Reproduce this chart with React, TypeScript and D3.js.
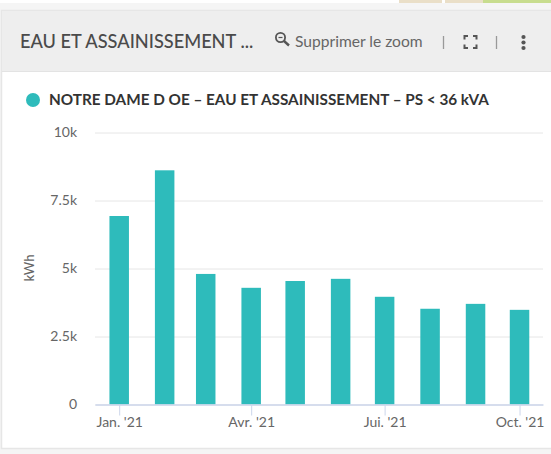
import React, { useEffect, useRef } from "react"
import * as d3 from "d3"

const months = ["2021-01-01", "2021-02-01", "2021-03-01", "2021-04-01", "2021-05-01", "2021-06-01", "2021-07-01", "2021-08-01", "2021-09-01", "2021-10-01"]
const values = [6930, 8610, 4800, 4290, 4540, 4620, 3960, 3520, 3700, 3480]
const yTicks = [0, 2500, 5000, 7500, 10000]
const yTickLabels = ["0", "2.5k", "5k", "7.5k", "10k"]
const xTickMonths = ["2021-01-01", "2021-04-01", "2021-07-01", "2021-10-01"]
const xTickLabels = ["Jan. '21", "Avr. '21", "Jui. '21", "Oct. '21"]

const title = "EAU ET ASSAINISSEMENT ..."
const legendLabel = "NOTRE DAME D OE \u2013 EAU ET ASSAINISSEMENT \u2013 PS < 36 kVA"
const zoomLabel = "Supprimer le zoom"
const yAxisLabel = "kWh"

const width = 551
const height = 454
const font = "Lato, sans-serif"
const barColor = "#2ebbbb"
const day = (s: string) => new Date(s + "T00:00:00Z")

const App = () => {
  const ref = useRef<SVGSVGElement>(null)

  useEffect(() => {
    const svg = d3.select(ref.current)
    svg.selectAll("*").remove()

    // page behind the card
    svg.append("rect").attr("width", width).attr("height", height).attr("fill", "#f5f5f5")
    svg.append("rect").attr("width", 383).attr("height", 3).attr("fill", "#ffffff")
    // bit of map showing above the card
    svg.append("rect").attr("x", 383).attr("width", 168).attr("height", 3).attr("fill", "#ffffff")
    svg.append("rect").attr("x", 399).attr("width", 43).attr("height", 3).attr("fill", "#eadfc8")
    svg.append("rect").attr("x", 445).attr("width", 38).attr("height", 3).attr("fill", "#eadfc8")
    svg.append("rect").attr("x", 483).attr("width", 68).attr("height", 3).attr("fill", "#c8dd8f")

    // card + header
    svg.append("rect").attr("x", 1.5).attr("y", 10.5).attr("width", 560).attr("height", 438)
      .attr("fill", "#ffffff").attr("stroke", "#e6e6e6").attr("stroke-width", 1.5)
    svg.append("rect").attr("x", 2).attr("y", 11).attr("width", 549).attr("height", 60).attr("fill", "#eeeeee")
    svg.append("line").attr("x1", 2).attr("x2", 551).attr("y1", 71.5).attr("y2", 71.5).attr("stroke", "#e3e3e3")

    svg.append("text").attr("x", 20).attr("y", 48).attr("font-family", font).attr("font-size", 18.2)
      .attr("font-weight", 500).attr("fill", "#4a4a4a").text(title)

    // zoom icon
    const icon = svg.append("g").attr("fill", "none").attr("stroke", "#555555")
    icon.append("circle").attr("cx", 280.5).attr("cy", 37.5).attr("r", 4.6).attr("stroke-width", 1.8)
    icon.append("line").attr("x1", 284).attr("y1", 41).attr("x2", 289).attr("y2", 45.5).attr("stroke-width", 2.4)
    icon.append("line").attr("x1", 278.5).attr("y1", 37.5).attr("x2", 282.5).attr("y2", 37.5).attr("stroke-width", 1.2)

    svg.append("text").attr("x", 295).attr("y", 47).attr("font-family", font).attr("font-size", 15.6)
      .attr("fill", "#666666").text(zoomLabel)

    svg.selectAll(".sep").data([443.5, 496.5]).join("line").attr("class", "sep")
      .attr("x1", d => d).attr("x2", d => d).attr("y1", 36).attr("y2", 49).attr("stroke", "#999999").attr("stroke-width", 1.3)

    // fullscreen icon
    const fs = svg.append("g").attr("fill", "none").attr("stroke", "#555555").attr("stroke-width", 2)
    ;["M464.5 39.5v-3.5h3.5", "M473 36h3.5v3.5", "M476.5 44.5v3.5h-3.5", "M468 48h-3.5v-3.5"].forEach(p => fs.append("path").attr("d", p))

    // dots menu
    svg.selectAll(".dot").data([37, 42.5, 48]).join("circle").attr("class", "dot")
      .attr("cx", 523.5).attr("cy", d => d).attr("r", 2.1).attr("fill", "#555555")

    // legend
    svg.append("circle").attr("cx", 33).attr("cy", 100).attr("r", 7).attr("fill", barColor)
    svg.append("text").attr("x", 49).attr("y", 105).attr("font-family", font).attr("font-size", 15.3)
      .attr("font-weight", 700).attr("fill", "#333333").text(legendLabel)

    // scales
    const xScale = d3.scaleTime()
      .domain([new Date("2020-12-15T12:00:00Z"), new Date("2021-10-17T00:00:00Z")])
      .range([95, 543])
    const yScale = d3.scaleLinear().domain([0, 10000]).range([404.5, 132.5])

    // y axis
    const yAxis = d3.axisLeft(yScale)
      .tickValues(yTicks)
      .tickSize(-(543 - 95))
      .tickPadding(18)
      .tickFormat((_, i) => yTickLabels[i])
    const yAxisG = svg.append("g").attr("transform", "translate(95,0)").call(yAxis as any)
    yAxisG.select(".domain").remove()
    yAxisG.selectAll(".tick line").attr("stroke", "#e6e6e6")
    yAxisG.selectAll("text").attr("font-family", font).attr("font-size", 14).attr("fill", "#666666")

    svg.append("text").attr("transform", "translate(34,268) rotate(-90)").attr("text-anchor", "middle")
      .attr("font-family", font).attr("font-size", 13).attr("font-weight", 500).attr("fill", "#666666").text(yAxisLabel)

    // bars
    const barWidth = 19.5
    svg.selectAll(".bar").data(values).join("rect").attr("class", "bar")
      .attr("x", (_, i) => xScale(day(months[i])) - barWidth / 2)
      .attr("y", d => yScale(d))
      .attr("width", barWidth)
      .attr("height", d => yScale(0) - yScale(d))
      .attr("fill", barColor)

    // x axis
    const xAxis = d3.axisBottom(xScale)
      .tickValues(xTickMonths.map(day))
      .tickSize(11)
      .tickSizeOuter(0)
      .tickPadding(2)
      .tickFormat((_, i) => xTickLabels[i])
    const xAxisG = svg.append("g").attr("transform", "translate(0,404.5)").call(xAxis as any)
    xAxisG.select(".domain").attr("stroke", "#ccd6eb").attr("stroke-width", 1.5)
    xAxisG.selectAll(".tick line").attr("stroke", "#ccd6eb")
    xAxisG.selectAll("text").attr("font-family", font).attr("font-size", 14).attr("fill", "#666666")
  }, [])

  return <svg ref={ref} width={width} height={height} style={{ position: "fixed", left: 0, top: 0 }} />
}

export default App
